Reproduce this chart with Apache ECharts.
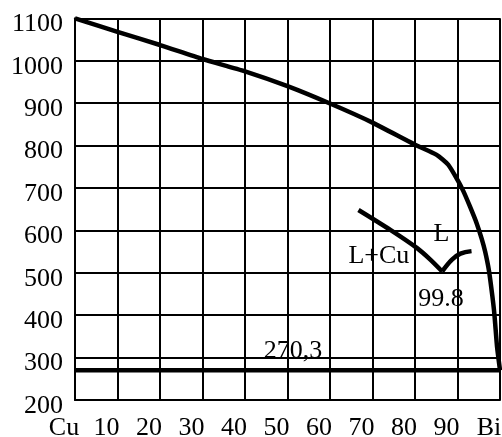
<!DOCTYPE html>
<html>
<head>
<meta charset="utf-8">
<style>
  html, body { margin: 0; padding: 0; background: #fff; }
  #chart { width: 502px; height: 437px; }
</style>
<script src="https://cdn.jsdelivr.net/npm/echarts@6/dist/echarts.min.js"></script>
</head>
<body>
<div id="chart"></div>
<script>
// Cu–Bi phase diagram: composition (% Bi) against temperature (°C)
const xTickLabels = ['Cu', '10', '20', '30', '40', '50', '60', '70', '80', '90', 'Bi'];

// liquidus from pure Cu down to the Bi side
const liquidus = [
  [0, 1100], [10, 1068], [20, 1037], [30, 1004], [40, 975], [50, 940],
  [60, 899], [70, 854], [80, 802], [85.1, 778], [87.8, 755], [90, 719],
  [91.4, 692], [92.9, 657], [94.5, 617], [95.7, 580], [96.5, 550],
  [97.4, 505], [98.2, 445], [98.7, 400], [99.3, 326], [100, 270.3]
];

// detail of the eutectic region: L+Cu branch and L branch
const branchCu = [[66.7, 648], [74.2, 601], [80.5, 558], [83.6, 531], [86.4, 503]];
const branchL = [[86.4, 503], [88.7, 531], [90.7, 545], [93.3, 551]];

// eutectic isotherm
const eutecticT = 270.3;
const eutectic = [[0, eutecticT], [100, eutecticT]];

// text notes inside the field
const notes = [
  { value: [86.2, 592], name: 'L' },
  { value: [71.5, 540], name: 'L+Cu' },
  { value: [86.1, 437], name: '99.8' },
  { value: [51.3, 314], name: String(eutecticT).replace('.', ',') }
];

const serif = 'Liberation Serif, Times New Roman, serif';
const thick = { color: '#000', width: 4.5 };

const chart = echarts.init(document.getElementById('chart'), null, { renderer: 'canvas' });
chart.setOption({
  animation: false,
  backgroundColor: '#fff',
  grid: {
    left: 75, right: 2, top: 18.3, bottom: 37,
    containLabel: false, outerBoundsMode: 'none'
  },
  xAxis: {
    type: 'value', min: 0, max: 100, interval: 10,
    axisLine: { show: true, lineStyle: { color: '#000', width: 2 } },
    axisTick: { show: false },
    splitLine: { show: true, lineStyle: { color: '#000', width: 2 } },
    axisLabel: {
      color: '#000', fontFamily: serif, fontSize: 26, margin: 15,
      padding: [0, 22, 0, 0],
      showMinLabel: true, showMaxLabel: true,
      formatter: (v) => xTickLabels[Math.round(v / 10)]
    }
  },
  yAxis: {
    type: 'value', min: 200, max: 1100, interval: 100,
    axisLine: { show: true, lineStyle: { color: '#000', width: 2 } },
    axisTick: { show: false },
    splitLine: { show: true, lineStyle: { color: '#000', width: 2 } },
    axisLabel: {
      color: '#000', fontFamily: serif, fontSize: 26, margin: 12,
      verticalAlign: 'top', lineHeight: 12,
      showMinLabel: true, showMaxLabel: true,
      formatter: (v) => String(v)
    }
  },
  series: [
    { type: 'line', data: liquidus, smooth: 0.2, symbol: 'none', lineStyle: thick, z: 3 },
    { type: 'line', data: branchCu, smooth: 0.3, symbol: 'none', lineStyle: thick, z: 3 },
    { type: 'line', data: branchL, smooth: 0.4, symbol: 'none', lineStyle: thick, z: 3 },
    { type: 'line', data: eutectic, symbol: 'none', lineStyle: thick, z: 3 },
    {
      type: 'scatter', data: notes, symbolSize: 0, z: 5, silent: true,
      itemStyle: { color: '#000', opacity: 1 },
      label: {
        show: true, position: 'inside', formatter: '{b}', opacity: 1,
        color: '#000', fontFamily: serif, fontSize: 26,
        textBorderWidth: 0, textBorderColor: 'transparent'
      }
    }
  ]
});
</script>
</body>
</html>
